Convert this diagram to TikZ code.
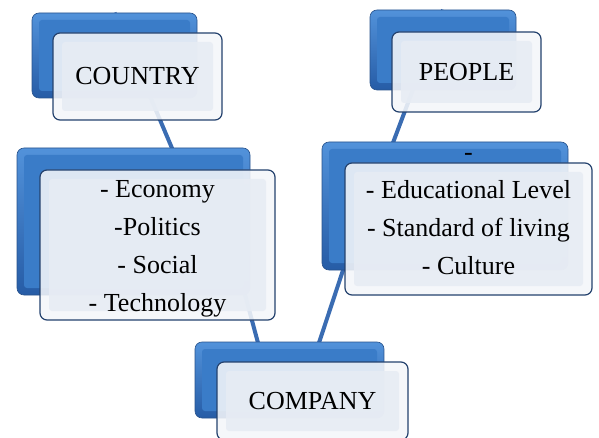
\documentclass[tikz,border=0pt]{standalone}
\usepackage{fontspec}
\setmainfont{Liberation Serif}
\usepackage{xcolor}
\usepackage{tikz}

\pgfdeclarelayer{background}
\pgfsetlayers{background,main}

\definecolor{backtop}{RGB}{82,146,218}
\definecolor{backbottom}{RGB}{38,92,166}
\definecolor{backface}{RGB}{58,124,200}
\definecolor{backline}{RGB}{40,82,140}
\definecolor{frontfill}{RGB}{244,246,249}
\definecolor{frontface}{RGB}{231,236,244}
\definecolor{frontline}{RGB}{36,66,110}
\definecolor{linkblue}{RGB}{58,108,178}

\tikzset{
  backbox/.style={draw=backline, line width=0.6pt, rounded corners=7pt,
    top color=backtop, bottom color=backbottom, inner sep=0pt,
    path picture={\fill[backface, rounded corners=3pt]
      ([shift={(7pt,-7pt)}]path picture bounding box.north west) rectangle
      ([shift={(-7pt,7pt)}]path picture bounding box.south east);}},
  frontbox/.style={draw=frontline, line width=1.2pt, rounded corners=7pt,
    fill=frontfill, fill opacity=0.88, text opacity=1, inner sep=0pt,
    path picture={\fill[frontface, rounded corners=3pt]
      ([shift={(9pt,-9pt)}]path picture bounding box.north west) rectangle
      ([shift={(-9pt,9pt)}]path picture bounding box.south east);}},
  boxtext/.style={font=\fontsize{26}{38}\selectfont, align=center},
  link/.style={draw=linkblue, line width=4pt}
}

\begin{document}
\begin{tikzpicture}[x=1pt,y=1pt,yscale=-1]
\useasboundingbox (0,0) rectangle (599,438);

% back boxes
\node[backbox, minimum width=165, minimum height=85] (countryback) at (114.5,55.5) {};
\node[backbox, minimum width=146, minimum height=80] (peopleback) at (443,50) {};
\node[backbox, minimum width=233, minimum height=147] (ecoback) at (133.5,221.5) {};
\node[backbox, minimum width=246, minimum height=128] (eduback) at (445,206) {};
\node[backbox, minimum width=189, minimum height=76] (companyback) at (289.5,380) {};

% front boxes
\node[frontbox, boxtext, minimum width=169, minimum height=87] (country) at (137.5,76.5) {COUNTRY};
\node[frontbox, boxtext, minimum width=149, minimum height=80] (people) at (466.5,72) {PEOPLE};
\node[frontbox, minimum width=235, minimum height=150] (eco) at (157.5,245) {};
\node[frontbox, minimum width=247, minimum height=132] (edu) at (468.5,229) {};
\node[frontbox, boxtext, minimum width=191, minimum height=78] (company) at (312.5,401) {COMPANY};

% Text Node
\node[boxtext] (ecotext) at ([yshift=4pt]eco.center)
  {- Economy\\-Politics\\- Social\\- Technology};
% Text Node
\node[boxtext] (edutext) at ([yshift=-15pt]edu.center)
  {-\\- Educational Level\\- Standard of living\\- Culture};

% hidden ends of the connectors
\coordinate (ecoin) at (194,200);
\coordinate (ecoout) at (233,250);
\coordinate (eduin) at (379,180);
\coordinate (eduout) at (353,240);
\coordinate (compleft) at (268,380);
\coordinate (compright) at (310,370);

% connectors, under the boxes
\begin{pgfonlayer}{background}
\draw[link] (countryback.north) -- (ecoin);
\draw[link] (peopleback.north) -- (eduin);
\draw[link] (ecoout) -- (compleft);
\draw[link] (eduout) -- (compright);
\end{pgfonlayer}

\end{tikzpicture}
\end{document}
